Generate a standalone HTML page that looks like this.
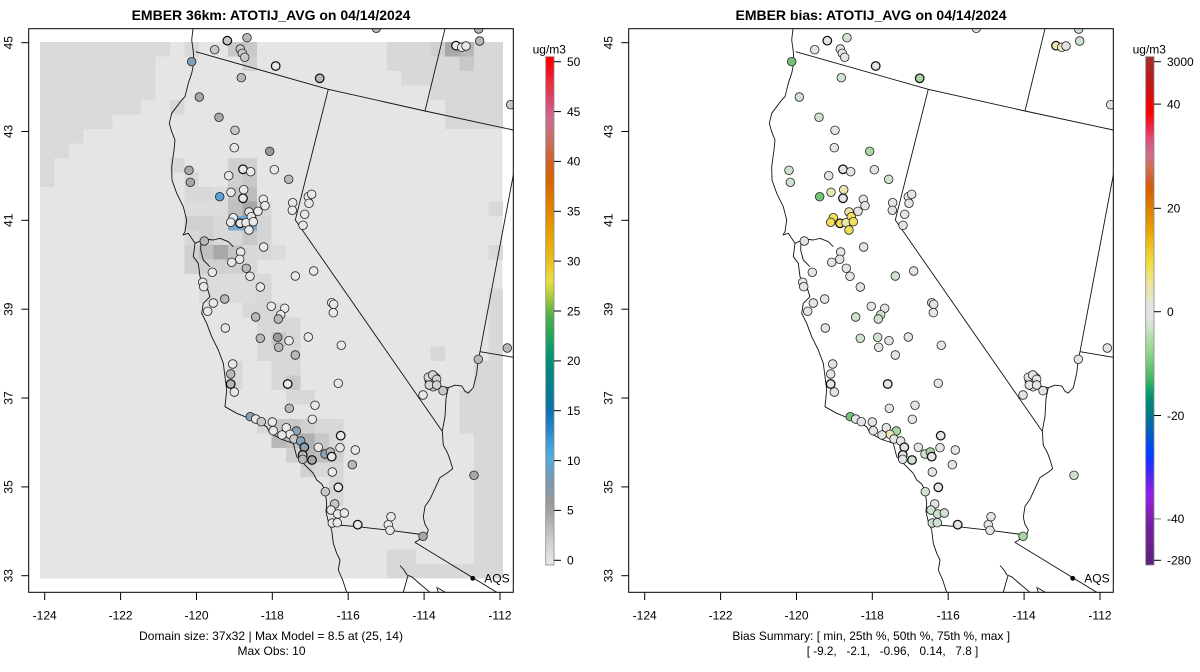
<!DOCTYPE html>
<html><head><meta charset="utf-8"><style>
html,body{margin:0;padding:0;background:#fff;}
svg{display:block;}
text{font-family:"Liberation Sans",Arial,Helvetica,sans-serif;fill:#000;}
.pts circle{stroke:#222;stroke-width:0.8;}
.pts .t{stroke:#111;stroke-width:1.25;}
.L0{fill:#e8e8e8}.L1{fill:#c8c8c8}.L2{fill:#b8b8b8}.L3{fill:#a8a8a8}.L4{fill:#999999}.L5{fill:#d4d4d4}
.LB{fill:#5a9fd4}.LG{fill:#7f9db5}.LH{fill:#8ba2b4}
.R0{fill:#e4e4e4}.R1{fill:#cfe2cf}.R2{fill:#a9d6a2}.R3{fill:#74c374}.RY{fill:#ebe5b0}.RZ{fill:#efdf5a}
.ln{fill:none;stroke:#111;stroke-width:0.9;stroke-linejoin:round;}
</style></head><body>
<svg width="1200" height="672" viewBox="0 0 1200 672" xmlns="http://www.w3.org/2000/svg">
<defs>
<clipPath id="box" clipPathUnits="userSpaceOnUse"><rect x="28.7" y="28.7" width="484.6" height="563.6"/></clipPath>
<linearGradient id="cbL" x1="0" y1="0" x2="0" y2="1">
<stop offset="0.0098" stop-color="#ff0000"/><stop offset="0.035" stop-color="#f01828"/><stop offset="0.055" stop-color="#e83040"/>
<stop offset="0.076" stop-color="#e04060"/><stop offset="0.096" stop-color="#d85080"/><stop offset="0.118" stop-color="#d06890"/>
<stop offset="0.137" stop-color="#c87080"/><stop offset="0.165" stop-color="#c87060"/><stop offset="0.186" stop-color="#cc6840"/>
<stop offset="0.212" stop-color="#d46020"/><stop offset="0.239" stop-color="#d86400"/><stop offset="0.267" stop-color="#dc7000"/>
<stop offset="0.294" stop-color="#e08000"/><stop offset="0.320" stop-color="#e49000"/><stop offset="0.347" stop-color="#e8a000"/>
<stop offset="0.375" stop-color="#e8b010"/><stop offset="0.402" stop-color="#e8c020"/><stop offset="0.422" stop-color="#ecd030"/>
<stop offset="0.441" stop-color="#e8e040"/><stop offset="0.463" stop-color="#c0d040"/><stop offset="0.482" stop-color="#90c440"/>
<stop offset="0.510" stop-color="#50b048"/><stop offset="0.539" stop-color="#30a858"/><stop offset="0.565" stop-color="#10a068"/>
<stop offset="0.598" stop-color="#009078"/><stop offset="0.618" stop-color="#008880"/><stop offset="0.645" stop-color="#008088"/>
<stop offset="0.676" stop-color="#0878a0"/><stop offset="0.696" stop-color="#0a70b0"/><stop offset="0.716" stop-color="#1a7cc0"/>
<stop offset="0.735" stop-color="#2a88c8"/><stop offset="0.755" stop-color="#3a98d4"/><stop offset="0.775" stop-color="#48a8e0"/>
<stop offset="0.794" stop-color="#58aad8"/><stop offset="0.816" stop-color="#6aa0c0"/><stop offset="0.835" stop-color="#7a9ab0"/>
<stop offset="0.857" stop-color="#8a9aa5"/><stop offset="0.876" stop-color="#999999"/><stop offset="0.892" stop-color="#a0a0a0"/>
<stop offset="0.912" stop-color="#b0b0b0"/><stop offset="0.931" stop-color="#bfbfbf"/><stop offset="0.951" stop-color="#cdcdcd"/>
<stop offset="0.971" stop-color="#dadada"/><stop offset="0.990" stop-color="#e6e6e6"/>
</linearGradient>
<linearGradient id="cbR" x1="0" y1="0" x2="0" y2="1">
<stop offset="0.009" stop-color="#a52a2a"/><stop offset="0.029" stop-color="#b02222"/><stop offset="0.049" stop-color="#c01818"/>
<stop offset="0.070" stop-color="#d01010"/><stop offset="0.090" stop-color="#e80808"/><stop offset="0.112" stop-color="#ff0000"/>
<stop offset="0.136" stop-color="#f02040"/><stop offset="0.158" stop-color="#e44870"/><stop offset="0.178" stop-color="#d46090"/>
<stop offset="0.199" stop-color="#cc7080"/><stop offset="0.219" stop-color="#d07050"/><stop offset="0.239" stop-color="#d46030"/>
<stop offset="0.260" stop-color="#d85c00"/><stop offset="0.280" stop-color="#dc7000"/><stop offset="0.300" stop-color="#e08000"/>
<stop offset="0.321" stop-color="#e49000"/><stop offset="0.341" stop-color="#e8a400"/><stop offset="0.361" stop-color="#ecb818"/>
<stop offset="0.382" stop-color="#eec828"/><stop offset="0.403" stop-color="#f0dc38"/><stop offset="0.426" stop-color="#f0e468"/>
<stop offset="0.447" stop-color="#ece4a0"/><stop offset="0.470" stop-color="#e8e4c0"/><stop offset="0.490" stop-color="#e4e4e4"/>
<stop offset="0.511" stop-color="#e4e4e4"/><stop offset="0.531" stop-color="#d0e4d0"/><stop offset="0.551" stop-color="#b8dcb0"/>
<stop offset="0.572" stop-color="#a0d898"/><stop offset="0.593" stop-color="#80d080"/><stop offset="0.616" stop-color="#60c070"/>
<stop offset="0.636" stop-color="#40b468"/><stop offset="0.656" stop-color="#10a070"/><stop offset="0.677" stop-color="#008c78"/>
<stop offset="0.697" stop-color="#008080"/><stop offset="0.717" stop-color="#0070a0"/><stop offset="0.738" stop-color="#0060c0"/>
<stop offset="0.758" stop-color="#0050e0"/><stop offset="0.778" stop-color="#0040ff"/><stop offset="0.799" stop-color="#2030ff"/>
<stop offset="0.819" stop-color="#4428f0"/><stop offset="0.839" stop-color="#7020e8"/><stop offset="0.860" stop-color="#9020e8"/>
<stop offset="0.880" stop-color="#9020d0"/><stop offset="0.900" stop-color="#8020b0"/><stop offset="0.924" stop-color="#7020a0"/>
<stop offset="0.948" stop-color="#702090"/><stop offset="0.968" stop-color="#682088"/><stop offset="0.989" stop-color="#602080"/>
</linearGradient>
<g id="maplines">
<path class="ln" d="M193,28.7 L191.7,40 L193.3,51.7 L194,61.7 L191.7,73.3 L188.3,83.3 L185,96.7 L181.7,100 L176.7,106.7 L171.7,113.3 L169.3,123.3 L171.7,131.7 L175,140 L174,150 L171.7,166.7 L172,180 L176.7,193.3 L183.3,206.7 L186.7,220 L185,231.7 L183,235 L188.3,233.3 L195,243.3 L193.3,256.7 L198.3,263.3 L200,276.7 L206.7,286.7 L210,296.7 L203.3,303.3 L201.7,313.3 L206.7,323.3 L211.7,336.7 L218.3,350 L223.3,363.3 L225,376.7 L226.7,390 L225,406.7 L236.7,413.3 L253.3,420 L266.7,426.7 L270,433.3 L283.3,440 L293.3,443.3 L296.7,456.7 L303.3,463.3 L313.3,473.3 L316.7,480 L321.7,484 L325,490 L326.7,503.3 L326,511.7 L328.3,521.7 L331.7,530 L333.3,543.3 L336.7,553.3 L340,560 L338.3,570 L342.7,580 L346.7,592.3"/>
<path class="ln" d="M195,243.3 L205,239 L213.3,240 L220,238.3 L228.3,241.7 L233.3,246.7 M201,240 L200.7,250 L203.3,260 L210,266.7"/>
<path class="ln" d="M195.7,51.7 L328.3,89.3 L425,111 L513.3,130"/>
<path class="ln" d="M445,28.7 L425,111"/>
<path class="ln" d="M328.3,89.3 L295.3,220 L442,431"/>
<path class="ln" d="M513.3,175 L480,351.7 L513.3,357.3"/>
<path class="ln" d="M480,351.7 L478.3,359 L476.7,373.3 L473.3,387.7 L468.3,393.1 L465,391.3 L461.7,385.9 L455,385.2 L448.3,387.7 L446,398.5 L445,416.5 L442.3,430.9 L443.3,445.3 L447.3,452.4 L450,459.7 L452.7,468.6 L448.3,472.2 L440,477.6 L435,488.4 L430,499.2 L425,506.4 L423.3,517.2 L425,524.4 L428.3,529.8 L426.7,535.2 L423.3,537 L415,542.4 L496.7,592.3"/>
<path class="ln" d="M331.7,524.5 L357.7,526.7 L390,530.3 L421.7,534.5"/>
<path class="ln" d="M400,565.5 L404,570 L407,575 L411.7,576.7 L420,584 L430,592.3 M403.3,592.3 L406.7,580 L408,576 M436.7,586.7 L438.3,592.3 M438,588 L445,592.3"/>
<path class="ln" d="M425,380 L428,373 L434,371 L440,376 L439,386 L433,391 L426,388 Z M440,386 L448,387.7"/>
</g>
</defs>

<!-- ================= LEFT PANEL ================= -->
<text x="271" y="20" font-size="14" font-weight="bold" text-anchor="middle">EMBER 36km: ATOTIJ_AVG on 04/14/2024</text>

<g clip-path="url(#box)">
<g shape-rendering="crispEdges">
<rect x="40" y="42" width="462.7" height="536.7" fill="#e5e5e5"/>
<path d="M40 42 H170.1 V56.5 H155.7 V100 H141.2 V114.5 H112.3 V129 H83.4 V143.5 H68.9 V158 H54.5 V187 H40 Z" fill="#d9d9d9"/>
<rect x="184.6" y="42" width="14.5" height="14.5" fill="#d8d8d8"/>
<rect x="170.14" y="100" width="14.5" height="14.5" fill="#d8d8d8"/>
<rect x="170.14" y="158" width="14.5" height="14.5" fill="#d8d8d8"/>
<rect x="184.6" y="172.5" width="14.5" height="14.5" fill="#d8d8d8"/>
<rect x="184.6" y="187" width="28.95" height="14.5" fill="#d8d8d8"/>
<rect x="213.52" y="187" width="14.5" height="14.5" fill="#dcdcdc"/>
<rect x="227.98" y="187" width="14.5" height="14.5" fill="#c4c4c4"/>
<rect x="242.44" y="187" width="14.5" height="14.5" fill="#bcbcbc"/>
<rect x="227.98" y="158" width="28.95" height="14.5" fill="#d0d0d0"/>
<rect x="227.98" y="172.5" width="14.5" height="14.5" fill="#d0d0d0"/>
<rect x="242.44" y="172.5" width="14.5" height="14.5" fill="#c8c8c8"/>
<rect x="184.6" y="201.5" width="43.4" height="14.5" fill="#dcdcdc"/>
<rect x="227.98" y="201.5" width="14.5" height="14.5" fill="#c0c0c0"/>
<rect x="242.44" y="201.5" width="14.5" height="14.5" fill="#a8a8a8"/>
<rect x="256.9" y="201.5" width="14.5" height="14.5" fill="#d8d8d8"/>
<rect x="184.6" y="216" width="28.95" height="14.5" fill="#d0d0d0"/>
<rect x="213.52" y="216" width="14.5" height="14.5" fill="#d8d8d8"/>
<rect x="227.98" y="216" width="28.95" height="14.5" fill="#78a8d0"/>
<rect x="256.9" y="216" width="14.5" height="29" fill="#d4d4d4"/>
<rect x="184.6" y="230.5" width="14.5" height="14.5" fill="#d8d8d8"/>
<rect x="199.06" y="230.5" width="14.5" height="14.5" fill="#d0d0d0"/>
<rect x="213.52" y="230.5" width="28.95" height="14.5" fill="#d8d8d8"/>
<rect x="242.44" y="230.5" width="14.5" height="14.5" fill="#c8c8c8"/>
<rect x="184.6" y="245" width="14.5" height="14.5" fill="#d0d0d0"/>
<rect x="199.06" y="245" width="14.5" height="14.5" fill="#c0c0c0"/>
<rect x="213.52" y="245" width="14.5" height="14.5" fill="#a8a8a8"/>
<rect x="227.98" y="245" width="14.5" height="14.5" fill="#c4c4c4"/>
<rect x="242.44" y="245" width="28.95" height="14.5" fill="#d8d8d8"/>
<rect x="271.36" y="245" width="14.5" height="14.5" fill="#dcdcdc"/>
<rect x="184.6" y="259.5" width="57.9" height="14.5" fill="#d0d0d0"/>
<rect x="242.44" y="259.5" width="14.5" height="14.5" fill="#d8d8d8"/>
<rect x="199.06" y="274" width="57.9" height="29" fill="#dcdcdc"/>
<rect x="256.9" y="274" width="14.5" height="29" fill="#d8d8d8"/>
<rect x="242.44" y="303" width="43.4" height="14.5" fill="#d8d8d8"/>
<rect x="256.9" y="317.5" width="43.4" height="14.5" fill="#d8d8d8"/>
<rect x="256.9" y="332" width="43.4" height="14.5" fill="#d8d8d8"/>
<rect x="271.36" y="332" width="14.5" height="14.5" fill="#c8c8c8"/>
<rect x="256.9" y="346.5" width="43.4" height="14.5" fill="#d8d8d8"/>
<rect x="227.98" y="361" width="14.5" height="29" fill="#d8d8d8"/>
<rect x="271.36" y="361" width="28.95" height="14.5" fill="#d8d8d8"/>
<rect x="271.36" y="375.5" width="14.5" height="14.5" fill="#d8d8d8"/>
<rect x="285.82" y="375.5" width="14.5" height="14.5" fill="#c8c8c8"/>
<rect x="285.82" y="390" width="28.95" height="14.5" fill="#d8d8d8"/>
<rect x="256.9" y="419" width="14.5" height="14.5" fill="#d8d8d8"/>
<rect x="271.36" y="419" width="28.95" height="14.5" fill="#c8c8c8"/>
<rect x="300.28" y="419" width="14.5" height="14.5" fill="#d0d0d0"/>
<rect x="314.74" y="419" width="28.95" height="14.5" fill="#d8d8d8"/>
<rect x="271.36" y="433.5" width="14.5" height="14.5" fill="#b8b8b8"/>
<rect x="285.82" y="433.5" width="14.5" height="14.5" fill="#c0c0c0"/>
<rect x="300.28" y="433.5" width="14.5" height="14.5" fill="#b0b0b0"/>
<rect x="314.74" y="433.5" width="14.5" height="14.5" fill="#c8c8c8"/>
<rect x="329.2" y="433.5" width="14.5" height="14.5" fill="#d8d8d8"/>
<rect x="285.82" y="448" width="14.5" height="14.5" fill="#d0d0d0"/>
<rect x="300.28" y="448" width="14.5" height="14.5" fill="#b8b8b8"/>
<rect x="314.74" y="448" width="14.5" height="14.5" fill="#c0c0c0"/>
<rect x="329.2" y="448" width="14.5" height="14.5" fill="#d0d0d0"/>
<rect x="300.28" y="462.5" width="14.5" height="14.5" fill="#d0d0d0"/>
<rect x="314.74" y="462.5" width="28.95" height="14.5" fill="#d8d8d8"/>
<rect x="329.2" y="477" width="14.5" height="29" fill="#d8d8d8"/>
<rect x="227.98" y="42" width="28.95" height="14.5" fill="#c8c8c8"/>
<rect x="242.44" y="56.5" width="14.5" height="14.5" fill="#d0d0d0"/>
<rect x="387.04" y="42" width="43.4" height="29" fill="#d8d8d8"/>
<rect x="401.5" y="71" width="28.95" height="14.5" fill="#d8d8d8"/>
<rect x="430.42" y="42" width="14.5" height="14.5" fill="#d0d0d0"/>
<rect x="430.42" y="56.5" width="14.5" height="43.5" fill="#d8d8d8"/>
<rect x="444.88" y="42" width="14.5" height="14.5" fill="#a8a8a8"/>
<rect x="459.34" y="42" width="14.5" height="14.5" fill="#b8b8b8"/>
<rect x="473.8" y="42" width="28.95" height="14.5" fill="#d8d8d8"/>
<rect x="444.88" y="56.5" width="57.9" height="72.5" fill="#d8d8d8"/>
<rect x="459.34" y="56.5" width="14.5" height="14.5" fill="#c8c8c8"/>
<rect x="488.26" y="201.5" width="14.5" height="14.5" fill="#d8d8d8"/>
<rect x="488.26" y="245" width="14.5" height="14.5" fill="#d8d8d8"/>
<rect x="488.26" y="288.5" width="14.5" height="290" fill="#d8d8d8"/>
<rect x="430.42" y="346.5" width="14.5" height="14.5" fill="#d8d8d8"/>
<rect x="473.8" y="361" width="14.5" height="203" fill="#d8d8d8"/>
<rect x="459.34" y="390" width="14.5" height="43.5" fill="#d8d8d8"/>
<rect x="387.04" y="549.5" width="28.95" height="29" fill="#d8d8d8"/>
<rect x="415.96" y="564" width="72.3" height="14.5" fill="#d8d8d8"/>
</g>
<use href="#maplines"/>
<g class="pts">
<circle cx="376.3" cy="28.3" r="4.3" class="L2"/>
<circle cx="478.7" cy="29" r="4.3" class="L2"/>
<circle cx="227.3" cy="40.7" r="4.3" class="L1 t"/>
<circle cx="247" cy="37.7" r="4.3" class="L2"/>
<circle cx="214.7" cy="49.7" r="4.3" class="L1"/>
<circle cx="240.3" cy="49" r="4.3" class="L1"/>
<circle cx="242.3" cy="53.3" r="4.3" class="L1"/>
<circle cx="244.7" cy="57.3" r="4.3" class="L1"/>
<circle cx="456" cy="45.7" r="4.3" class="L0 t"/>
<circle cx="461.7" cy="47.3" r="4.3" class="L0"/>
<circle cx="466" cy="46" r="4.3" class="L0"/>
<circle cx="479.7" cy="41" r="4.3" class="L2"/>
<circle cx="191.7" cy="61.7" r="4.3" class="LG"/>
<circle cx="275.7" cy="66" r="4.3" class="L0 t"/>
<circle cx="319.7" cy="78.3" r="4.3" class="L2 t"/>
<circle cx="241.3" cy="77.7" r="4.3" class="L2"/>
<circle cx="199.3" cy="97" r="4.3" class="L3"/>
<circle cx="510.7" cy="104.7" r="4.3" class="L1"/>
<circle cx="219" cy="117.3" r="4.3" class="L3"/>
<circle cx="235" cy="130.3" r="4.3" class="L1"/>
<circle cx="234.3" cy="147.7" r="4.3" class="L0"/>
<circle cx="269.7" cy="151.3" r="4.3" class="L4"/>
<circle cx="189" cy="170.3" r="4.3" class="L3"/>
<circle cx="190.3" cy="182.3" r="4.3" class="L3"/>
<circle cx="228.7" cy="175.7" r="4.3" class="L0"/>
<circle cx="243" cy="169.3" r="4.3" class="L0 t"/>
<circle cx="250.7" cy="171.7" r="4.3" class="L0"/>
<circle cx="274.3" cy="169.7" r="4.3" class="L0"/>
<circle cx="288.7" cy="179.3" r="4.3" class="L2"/>
<circle cx="219.7" cy="196.7" r="4.3" class="LB"/>
<circle cx="231" cy="192.3" r="4.3" class="L0"/>
<circle cx="243.7" cy="189.7" r="4.3" class="L0"/>
<circle cx="243" cy="198.3" r="4.3" class="L0 t"/>
<circle cx="263.3" cy="199.3" r="4.3" class="L0"/>
<circle cx="265" cy="205.7" r="4.3" class="L0"/>
<circle cx="258" cy="211.3" r="4.3" class="L0"/>
<circle cx="249" cy="212" r="4.3" class="L0"/>
<circle cx="251.3" cy="216.7" r="4.3" class="L0"/>
<circle cx="292.7" cy="202.7" r="4.3" class="L0"/>
<circle cx="292.3" cy="210.3" r="4.3" class="L0"/>
<circle cx="304.7" cy="214.3" r="4.3" class="L0"/>
<circle cx="303" cy="225.3" r="4.3" class="L0"/>
<circle cx="308.3" cy="196.7" r="4.3" class="L0"/>
<circle cx="311.7" cy="194.3" r="4.3" class="L0"/>
<circle cx="309" cy="203.3" r="4.3" class="L0"/>
<circle cx="233.3" cy="217.7" r="4.3" class="L0"/>
<circle cx="230.7" cy="222.3" r="4.3" class="L0"/>
<circle cx="240" cy="223.3" r="4.3" class="L0 t"/>
<circle cx="246" cy="222.7" r="4.3" class="L0"/>
<circle cx="253.3" cy="221.7" r="4.3" class="L0"/>
<circle cx="249" cy="230" r="4.3" class="L0"/>
<circle cx="263.7" cy="247" r="4.3" class="L0"/>
<circle cx="204.3" cy="241" r="4.3" class="L2"/>
<circle cx="240.7" cy="252" r="4.3" class="L0"/>
<circle cx="239.7" cy="259.3" r="4.3" class="L0"/>
<circle cx="231.7" cy="262.3" r="4.3" class="L0"/>
<circle cx="246.3" cy="268.3" r="4.3" class="L2"/>
<circle cx="250" cy="276.3" r="4.3" class="L0"/>
<circle cx="212.3" cy="272.3" r="4.3" class="L0"/>
<circle cx="295.3" cy="276" r="4.3" class="L0"/>
<circle cx="313.7" cy="271" r="4.3" class="L0"/>
<circle cx="202.7" cy="282.3" r="4.3" class="L0"/>
<circle cx="203.7" cy="286.7" r="4.3" class="L0"/>
<circle cx="260.3" cy="287" r="4.3" class="L0"/>
<circle cx="224.7" cy="299" r="4.3" class="L2"/>
<circle cx="213.3" cy="303" r="4.3" class="L0"/>
<circle cx="207.7" cy="311.3" r="4.3" class="L0"/>
<circle cx="271.3" cy="306.3" r="4.3" class="L0"/>
<circle cx="284.7" cy="308.3" r="4.3" class="L0"/>
<circle cx="280.7" cy="314.7" r="4.3" class="L0"/>
<circle cx="278.3" cy="319" r="4.3" class="L2"/>
<circle cx="255.7" cy="317" r="4.3" class="L2"/>
<circle cx="331.7" cy="302.7" r="4.3" class="L0"/>
<circle cx="333.7" cy="304.3" r="4.3" class="L0"/>
<circle cx="333.3" cy="312.7" r="4.3" class="L0"/>
<circle cx="225.3" cy="328" r="4.3" class="L0"/>
<circle cx="260.3" cy="338.3" r="4.3" class="L2"/>
<circle cx="277.7" cy="337.3" r="4.3" class="L4"/>
<circle cx="289" cy="340.7" r="4.3" class="L0"/>
<circle cx="278.7" cy="347.3" r="4.3" class="L2"/>
<circle cx="308.3" cy="337" r="4.3" class="L0"/>
<circle cx="295.3" cy="355" r="4.3" class="L2"/>
<circle cx="341.3" cy="345.3" r="4.3" class="L0"/>
<circle cx="507.3" cy="348" r="4.3" class="L2"/>
<circle cx="478.3" cy="359.3" r="4.3" class="L2"/>
<circle cx="232.7" cy="364" r="4.3" class="L0"/>
<circle cx="230.7" cy="374" r="4.3" class="L2"/>
<circle cx="230.7" cy="384" r="4.3" class="L2 t"/>
<circle cx="234.3" cy="392" r="4.3" class="L0"/>
<circle cx="287.7" cy="384" r="4.3" class="L0 t"/>
<circle cx="338.3" cy="383.3" r="4.3" class="L0"/>
<circle cx="428.3" cy="377.3" r="4.3" class="L5"/>
<circle cx="432.7" cy="375" r="4.3" class="L5"/>
<circle cx="436.7" cy="379.3" r="4.3" class="L5"/>
<circle cx="433.3" cy="386.7" r="4.3" class="L5"/>
<circle cx="429.3" cy="385" r="4.3" class="L5"/>
<circle cx="436.7" cy="385" r="4.3" class="L5"/>
<circle cx="443" cy="390.7" r="4.3" class="L1"/>
<circle cx="423" cy="395" r="4.3" class="L0"/>
<circle cx="315" cy="405.3" r="4.3" class="L0"/>
<circle cx="289.3" cy="408.3" r="4.3" class="L2"/>
<circle cx="312.3" cy="419.3" r="4.3" class="L0"/>
<circle cx="250.3" cy="416.7" r="4.3" class="LH"/>
<circle cx="255.7" cy="419" r="4.3" class="L0"/>
<circle cx="261.3" cy="421.7" r="4.3" class="L1"/>
<circle cx="272.3" cy="422" r="4.3" class="L0"/>
<circle cx="286.3" cy="427.7" r="4.3" class="L0"/>
<circle cx="296.3" cy="431" r="4.3" class="LH"/>
<circle cx="290" cy="434.3" r="4.3" class="L0"/>
<circle cx="273.3" cy="430.7" r="4.3" class="L0"/>
<circle cx="282" cy="435" r="4.3" class="L0"/>
<circle cx="294" cy="439" r="4.3" class="L1"/>
<circle cx="300.7" cy="441" r="4.3" class="LH"/>
<circle cx="304.3" cy="447.3" r="4.3" class="LH t"/>
<circle cx="302.7" cy="455" r="4.3" class="L2 t"/>
<circle cx="302.7" cy="459.3" r="4.3" class="L2"/>
<circle cx="312" cy="460" r="4.3" class="L3 t"/>
<circle cx="318.3" cy="447.3" r="4.3" class="L0"/>
<circle cx="325" cy="454" r="4.3" class="LH"/>
<circle cx="330.3" cy="452" r="4.3" class="L2"/>
<circle cx="331.7" cy="456.7" r="4.3" class="L0 t"/>
<circle cx="340" cy="447.7" r="4.3" class="L0"/>
<circle cx="340.7" cy="435.7" r="4.3" class="L0 t"/>
<circle cx="355.3" cy="450" r="4.3" class="L0"/>
<circle cx="352.3" cy="464.7" r="4.3" class="L2"/>
<circle cx="332.3" cy="472" r="4.3" class="L0"/>
<circle cx="338.3" cy="487.3" r="4.3" class="L0 t"/>
<circle cx="325.3" cy="491.7" r="4.3" class="L1"/>
<circle cx="474" cy="475.3" r="4.3" class="L3"/>
<circle cx="334.7" cy="504" r="4.3" class="L1"/>
<circle cx="331" cy="510" r="4.3" class="L0"/>
<circle cx="337.7" cy="514" r="4.3" class="L0"/>
<circle cx="344.3" cy="513" r="4.3" class="L0"/>
<circle cx="332.3" cy="523" r="4.3" class="L0"/>
<circle cx="337.3" cy="522.7" r="4.3" class="L0"/>
<circle cx="357.7" cy="524.7" r="4.3" class="L0 t"/>
<circle cx="391" cy="516.7" r="4.3" class="L0"/>
<circle cx="388.3" cy="524.7" r="4.3" class="L0"/>
<circle cx="390" cy="530.3" r="4.3" class="L0"/>
<circle cx="423" cy="536.3" r="4.3" class="L3"/>
</g>
<circle cx="472.7" cy="578.3" r="2.4" fill="#000"/>
</g>
<text x="484.3" y="582.5" font-size="12">AQS</text>

<rect x="28.7" y="28.7" width="484.6" height="563.6" fill="none" stroke="#000" stroke-width="1"/>
<g stroke="#000" stroke-width="1">
<line x1="44.7" y1="592.3" x2="44.7" y2="600"/><line x1="120.6" y1="592.3" x2="120.6" y2="600"/>
<line x1="196.5" y1="592.3" x2="196.5" y2="600"/><line x1="272.3" y1="592.3" x2="272.3" y2="600"/>
<line x1="348.2" y1="592.3" x2="348.2" y2="600"/><line x1="424.1" y1="592.3" x2="424.1" y2="600"/>
<line x1="500" y1="592.3" x2="500" y2="600"/>
<line x1="21.3" y1="575.7" x2="28.7" y2="575.7"/><line x1="21.3" y1="486.9" x2="28.7" y2="486.9"/>
<line x1="21.3" y1="398" x2="28.7" y2="398"/><line x1="21.3" y1="309.2" x2="28.7" y2="309.2"/>
<line x1="21.3" y1="220.3" x2="28.7" y2="220.3"/><line x1="21.3" y1="131.5" x2="28.7" y2="131.5"/>
<line x1="21.3" y1="42.7" x2="28.7" y2="42.7"/>
</g>
<g font-size="12" text-anchor="middle">
<text x="44.7" y="619.5">-124</text><text x="120.6" y="619.5">-122</text><text x="196.5" y="619.5">-120</text>
<text x="272.3" y="619.5">-118</text><text x="348.2" y="619.5">-116</text><text x="424.1" y="619.5">-114</text>
<text x="500" y="619.5">-112</text>
<text transform="translate(12.3,575.7) rotate(-90)">33</text>
<text transform="translate(12.3,486.9) rotate(-90)">35</text>
<text transform="translate(12.3,398) rotate(-90)">37</text>
<text transform="translate(12.3,309.2) rotate(-90)">39</text>
<text transform="translate(12.3,220.3) rotate(-90)">41</text>
<text transform="translate(12.3,131.5) rotate(-90)">43</text>
<text transform="translate(12.3,42.7) rotate(-90)">45</text>
<text x="271" y="640" textLength="264" lengthAdjust="spacingAndGlyphs">Domain size: 37x32 | Max Model = 8.5 at (25, 14)</text>
<text x="271.5" y="655">Max Obs: 10</text>
</g>

<!-- left colorbar -->
<text x="549.3" y="53.5" font-size="12" text-anchor="middle">ug/m3</text>
<rect x="545.7" y="56.7" width="8.3" height="508.3" fill="url(#cbL)" stroke="#888" stroke-width="0.8"/>
<g stroke="#000" stroke-width="1">
<line x1="554" y1="61.7" x2="561" y2="61.7"/><line x1="554" y1="111.6" x2="561" y2="111.6"/>
<line x1="554" y1="161.4" x2="561" y2="161.4"/><line x1="554" y1="211.3" x2="561" y2="211.3"/>
<line x1="554" y1="261.1" x2="561" y2="261.1"/><line x1="554" y1="311" x2="561" y2="311"/>
<line x1="554" y1="360.9" x2="561" y2="360.9"/><line x1="554" y1="410.7" x2="561" y2="410.7"/>
<line x1="554" y1="460.6" x2="561" y2="460.6"/><line x1="554" y1="510.4" x2="561" y2="510.4"/>
<line x1="554" y1="560.3" x2="561" y2="560.3"/>
</g>
<g font-size="12">
<text x="567" y="66">50</text><text x="567" y="115.9">45</text><text x="567" y="165.7">40</text>
<text x="567" y="215.6">35</text><text x="567" y="265.4">30</text><text x="567" y="315.3">25</text>
<text x="567" y="365.2">20</text><text x="567" y="415">15</text><text x="567" y="464.9">10</text>
<text x="567" y="514.7">5</text><text x="567" y="564.6">0</text>
</g>

<!-- ================= RIGHT PANEL ================= -->
<text x="871" y="20" font-size="14" font-weight="bold" text-anchor="middle">EMBER bias: ATOTIJ_AVG on 04/14/2024</text>
<g transform="translate(600,0)">
<g clip-path="url(#box)">
<use href="#maplines"/>
<g class="pts">
<circle cx="376.3" cy="28.3" r="4.3" class="R0"/>
<circle cx="478.7" cy="29" r="4.3" class="R1"/>
<circle cx="227.3" cy="40.7" r="4.3" class="R0 t"/>
<circle cx="247" cy="37.7" r="4.3" class="R1"/>
<circle cx="214.7" cy="49.7" r="4.3" class="R0"/>
<circle cx="240.3" cy="49" r="4.3" class="R0"/>
<circle cx="242.3" cy="53.3" r="4.3" class="R0"/>
<circle cx="244.7" cy="57.3" r="4.3" class="R0"/>
<circle cx="456" cy="45.7" r="4.3" class="RY t"/>
<circle cx="461.7" cy="47.3" r="4.3" class="RY"/>
<circle cx="466" cy="46" r="4.3" class="R0"/>
<circle cx="479.7" cy="41" r="4.3" class="R1"/>
<circle cx="191.7" cy="61.7" r="4.3" class="R3"/>
<circle cx="275.7" cy="66" r="4.3" class="R0 t"/>
<circle cx="319.7" cy="78.3" r="4.3" class="R2 t"/>
<circle cx="241.3" cy="77.7" r="4.3" class="R1"/>
<circle cx="199.3" cy="97" r="4.3" class="R1"/>
<circle cx="510.7" cy="104.7" r="4.3" class="R0"/>
<circle cx="219" cy="117.3" r="4.3" class="R1"/>
<circle cx="235" cy="130.3" r="4.3" class="R0"/>
<circle cx="234.3" cy="147.7" r="4.3" class="R0"/>
<circle cx="269.7" cy="151.3" r="4.3" class="R2"/>
<circle cx="189" cy="170.3" r="4.3" class="R1"/>
<circle cx="190.3" cy="182.3" r="4.3" class="R1"/>
<circle cx="228.7" cy="175.7" r="4.3" class="R0"/>
<circle cx="243" cy="169.3" r="4.3" class="R0 t"/>
<circle cx="250.7" cy="171.7" r="4.3" class="R0"/>
<circle cx="274.3" cy="169.7" r="4.3" class="R0"/>
<circle cx="288.7" cy="179.3" r="4.3" class="R1"/>
<circle cx="219.7" cy="196.7" r="4.3" class="R3"/>
<circle cx="231" cy="192.3" r="4.3" class="RY"/>
<circle cx="243.7" cy="189.7" r="4.3" class="RY"/>
<circle cx="243" cy="198.3" r="4.3" class="R0 t"/>
<circle cx="263.3" cy="199.3" r="4.3" class="R0"/>
<circle cx="265" cy="205.7" r="4.3" class="R0"/>
<circle cx="258" cy="211.3" r="4.3" class="R0"/>
<circle cx="249" cy="212" r="4.3" class="RY"/>
<circle cx="251.3" cy="216.7" r="4.3" class="RZ"/>
<circle cx="292.7" cy="202.7" r="4.3" class="R0"/>
<circle cx="292.3" cy="210.3" r="4.3" class="R0"/>
<circle cx="304.7" cy="214.3" r="4.3" class="R0"/>
<circle cx="303" cy="225.3" r="4.3" class="R0"/>
<circle cx="308.3" cy="196.7" r="4.3" class="R0"/>
<circle cx="311.7" cy="194.3" r="4.3" class="R0"/>
<circle cx="309" cy="203.3" r="4.3" class="R0"/>
<circle cx="233.3" cy="217.7" r="4.3" class="RZ"/>
<circle cx="230.7" cy="222.3" r="4.3" class="RZ"/>
<circle cx="240" cy="223.3" r="4.3" class="RZ t"/>
<circle cx="246" cy="222.7" r="4.3" class="RY"/>
<circle cx="253.3" cy="221.7" r="4.3" class="RZ"/>
<circle cx="249" cy="230" r="4.3" class="RZ"/>
<circle cx="263.7" cy="247" r="4.3" class="R0"/>
<circle cx="204.3" cy="241" r="4.3" class="R0"/>
<circle cx="240.7" cy="252" r="4.3" class="R0"/>
<circle cx="239.7" cy="259.3" r="4.3" class="R0"/>
<circle cx="231.7" cy="262.3" r="4.3" class="R0"/>
<circle cx="246.3" cy="268.3" r="4.3" class="R0"/>
<circle cx="250" cy="276.3" r="4.3" class="R0"/>
<circle cx="212.3" cy="272.3" r="4.3" class="R0"/>
<circle cx="295.3" cy="276" r="4.3" class="R1"/>
<circle cx="313.7" cy="271" r="4.3" class="R0"/>
<circle cx="202.7" cy="282.3" r="4.3" class="R0"/>
<circle cx="203.7" cy="286.7" r="4.3" class="R0"/>
<circle cx="260.3" cy="287" r="4.3" class="R0"/>
<circle cx="224.7" cy="299" r="4.3" class="R0"/>
<circle cx="213.3" cy="303" r="4.3" class="R0"/>
<circle cx="207.7" cy="311.3" r="4.3" class="R0"/>
<circle cx="271.3" cy="306.3" r="4.3" class="R0"/>
<circle cx="284.7" cy="308.3" r="4.3" class="R0"/>
<circle cx="280.7" cy="314.7" r="4.3" class="R1"/>
<circle cx="278.3" cy="319" r="4.3" class="R1"/>
<circle cx="255.7" cy="317" r="4.3" class="R1"/>
<circle cx="331.7" cy="302.7" r="4.3" class="R1"/>
<circle cx="333.7" cy="304.3" r="4.3" class="R0"/>
<circle cx="333.3" cy="312.7" r="4.3" class="R0"/>
<circle cx="225.3" cy="328" r="4.3" class="R0"/>
<circle cx="260.3" cy="338.3" r="4.3" class="R1"/>
<circle cx="277.7" cy="337.3" r="4.3" class="R1"/>
<circle cx="289" cy="340.7" r="4.3" class="R0"/>
<circle cx="278.7" cy="347.3" r="4.3" class="R0"/>
<circle cx="308.3" cy="337" r="4.3" class="R0"/>
<circle cx="295.3" cy="355" r="4.3" class="R0"/>
<circle cx="341.3" cy="345.3" r="4.3" class="R0"/>
<circle cx="507.3" cy="348" r="4.3" class="R0"/>
<circle cx="478.3" cy="359.3" r="4.3" class="R0"/>
<circle cx="232.7" cy="364" r="4.3" class="R0"/>
<circle cx="230.7" cy="374" r="4.3" class="R0"/>
<circle cx="230.7" cy="384" r="4.3" class="R0 t"/>
<circle cx="234.3" cy="392" r="4.3" class="R0"/>
<circle cx="287.7" cy="384" r="4.3" class="R0 t"/>
<circle cx="338.3" cy="383.3" r="4.3" class="R0"/>
<circle cx="428.3" cy="377.3" r="4.3" class="R0"/>
<circle cx="432.7" cy="375" r="4.3" class="R0"/>
<circle cx="436.7" cy="379.3" r="4.3" class="R0"/>
<circle cx="433.3" cy="386.7" r="4.3" class="R0"/>
<circle cx="429.3" cy="385" r="4.3" class="R0"/>
<circle cx="436.7" cy="385" r="4.3" class="R0"/>
<circle cx="443" cy="390.7" r="4.3" class="R0"/>
<circle cx="423" cy="395" r="4.3" class="R0"/>
<circle cx="315" cy="405.3" r="4.3" class="R0"/>
<circle cx="289.3" cy="408.3" r="4.3" class="R0"/>
<circle cx="312.3" cy="419.3" r="4.3" class="R0"/>
<circle cx="250.3" cy="416.7" r="4.3" class="R3"/>
<circle cx="255.7" cy="419" r="4.3" class="R0"/>
<circle cx="261.3" cy="421.7" r="4.3" class="R0"/>
<circle cx="272.3" cy="422" r="4.3" class="R0"/>
<circle cx="286.3" cy="427.7" r="4.3" class="R0"/>
<circle cx="296.3" cy="431" r="4.3" class="R2"/>
<circle cx="290" cy="434.3" r="4.3" class="RY"/>
<circle cx="273.3" cy="430.7" r="4.3" class="R0"/>
<circle cx="282" cy="435" r="4.3" class="R0"/>
<circle cx="294" cy="439" r="4.3" class="R0"/>
<circle cx="300.7" cy="441" r="4.3" class="R0"/>
<circle cx="304.3" cy="447.3" r="4.3" class="R0 t"/>
<circle cx="302.7" cy="455" r="4.3" class="R0 t"/>
<circle cx="302.7" cy="459.3" r="4.3" class="R0"/>
<circle cx="312" cy="460" r="4.3" class="R1 t"/>
<circle cx="318.3" cy="447.3" r="4.3" class="R0"/>
<circle cx="325" cy="454" r="4.3" class="R1"/>
<circle cx="330.3" cy="452" r="4.3" class="R2"/>
<circle cx="331.7" cy="456.7" r="4.3" class="R0 t"/>
<circle cx="340" cy="447.7" r="4.3" class="R0"/>
<circle cx="340.7" cy="435.7" r="4.3" class="R0 t"/>
<circle cx="355.3" cy="450" r="4.3" class="R0"/>
<circle cx="352.3" cy="464.7" r="4.3" class="R0"/>
<circle cx="332.3" cy="472" r="4.3" class="R0"/>
<circle cx="338.3" cy="487.3" r="4.3" class="R0 t"/>
<circle cx="325.3" cy="491.7" r="4.3" class="R1"/>
<circle cx="474" cy="475.3" r="4.3" class="R1"/>
<circle cx="334.7" cy="504" r="4.3" class="R0"/>
<circle cx="331" cy="510" r="4.3" class="R1"/>
<circle cx="337.7" cy="514" r="4.3" class="R1"/>
<circle cx="344.3" cy="513" r="4.3" class="R1"/>
<circle cx="332.3" cy="523" r="4.3" class="R1"/>
<circle cx="337.3" cy="522.7" r="4.3" class="R1"/>
<circle cx="357.7" cy="524.7" r="4.3" class="R0 t"/>
<circle cx="391" cy="516.7" r="4.3" class="R0"/>
<circle cx="388.3" cy="524.7" r="4.3" class="R0"/>
<circle cx="390" cy="530.3" r="4.3" class="R0"/>
<circle cx="423" cy="536.3" r="4.3" class="R2"/>
</g>
<circle cx="472.7" cy="578.3" r="2.4" fill="#000"/>
</g>
</g>
<text x="1084.3" y="582.5" font-size="12">AQS</text>

<rect x="628.7" y="28.7" width="484.6" height="563.6" fill="none" stroke="#000" stroke-width="1"/>
<g stroke="#000" stroke-width="1">
<line x1="644.7" y1="592.3" x2="644.7" y2="600"/><line x1="720.6" y1="592.3" x2="720.6" y2="600"/>
<line x1="796.5" y1="592.3" x2="796.5" y2="600"/><line x1="872.3" y1="592.3" x2="872.3" y2="600"/>
<line x1="948.2" y1="592.3" x2="948.2" y2="600"/><line x1="1024.1" y1="592.3" x2="1024.1" y2="600"/>
<line x1="1100" y1="592.3" x2="1100" y2="600"/>
<line x1="621.3" y1="575.7" x2="628.7" y2="575.7"/><line x1="621.3" y1="486.9" x2="628.7" y2="486.9"/>
<line x1="621.3" y1="398" x2="628.7" y2="398"/><line x1="621.3" y1="309.2" x2="628.7" y2="309.2"/>
<line x1="621.3" y1="220.3" x2="628.7" y2="220.3"/><line x1="621.3" y1="131.5" x2="628.7" y2="131.5"/>
<line x1="621.3" y1="42.7" x2="628.7" y2="42.7"/>
</g>
<g font-size="12" text-anchor="middle">
<text x="644.7" y="619.5">-124</text><text x="720.6" y="619.5">-122</text><text x="796.5" y="619.5">-120</text>
<text x="872.3" y="619.5">-118</text><text x="948.2" y="619.5">-116</text><text x="1024.1" y="619.5">-114</text>
<text x="1100" y="619.5">-112</text>
<text transform="translate(612.3,575.7) rotate(-90)">33</text>
<text transform="translate(612.3,486.9) rotate(-90)">35</text>
<text transform="translate(612.3,398) rotate(-90)">37</text>
<text transform="translate(612.3,309.2) rotate(-90)">39</text>
<text transform="translate(612.3,220.3) rotate(-90)">41</text>
<text transform="translate(612.3,131.5) rotate(-90)">43</text>
<text transform="translate(612.3,42.7) rotate(-90)">45</text>
<text x="871.2" y="640" textLength="277.7" lengthAdjust="spacingAndGlyphs">Bias Summary: [ min, 25th %, 50th %, 75th %, max ]</text>
</g>
<text x="806.7" y="655" font-size="12" textLength="171.6" lengthAdjust="spacingAndGlyphs" xml:space="preserve">[ -9.2,   -2.1,   -0.96,   0.14,   7.8 ]</text>

<!-- right colorbar -->
<text x="1149.3" y="53.5" font-size="12" text-anchor="middle">ug/m3</text>
<rect x="1145.7" y="56.7" width="8.3" height="508.3" fill="url(#cbR)" stroke="#888" stroke-width="0.8"/>
<g stroke="#000" stroke-width="1">
<line x1="1154" y1="61.7" x2="1161" y2="61.7"/><line x1="1154" y1="104.1" x2="1161" y2="104.1"/>
<line x1="1154" y1="208.3" x2="1161" y2="208.3"/><line x1="1154" y1="311.7" x2="1161" y2="311.7"/>
<line x1="1154" y1="415.5" x2="1161" y2="415.5"/><line x1="1154" y1="518.9" x2="1161" y2="518.9" stroke="#777"/>
<line x1="1154" y1="560.3" x2="1161" y2="560.3"/>
</g>
<g font-size="12">
<text x="1167" y="66">3000</text><text x="1167" y="108.4">40</text><text x="1167" y="212.6">20</text>
<text x="1167" y="316">0</text><text x="1167" y="419.8">-20</text><text x="1167" y="523.2">-40</text>
<text x="1167" y="564.6">-280</text>
</g>
</svg>
</body></html>
